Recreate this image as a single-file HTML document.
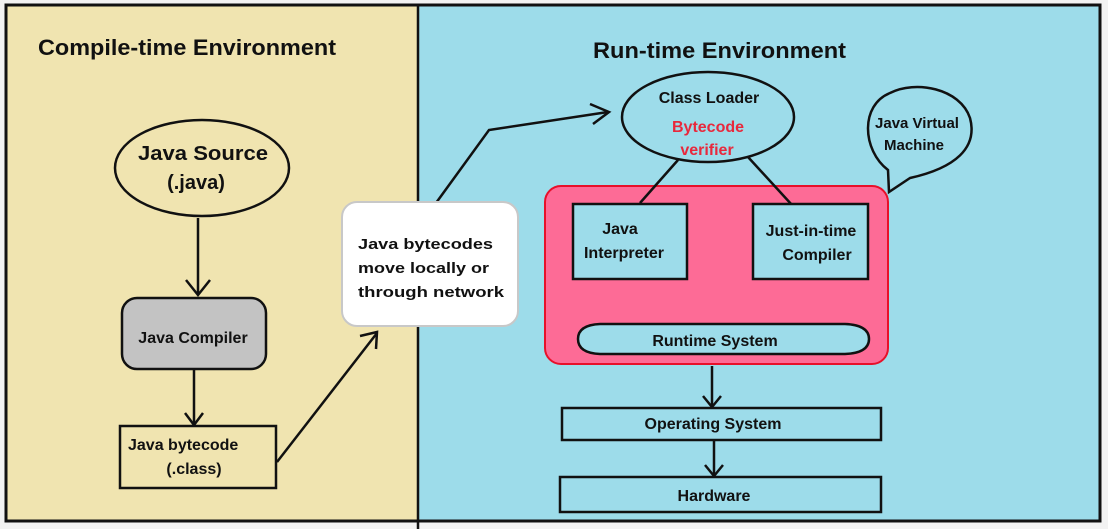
<!DOCTYPE html>
<html><head><meta charset="utf-8"><style>
html,body{margin:0;padding:0;background:#f2f2f2;}
svg{display:block;}
text{font-family:"Liberation Sans",Arial,sans-serif;fill:#111;font-weight:bold;}
</style></head><body>
<svg width="1108" height="529" viewBox="0 0 1108 529" xmlns="http://www.w3.org/2000/svg">
<rect x="0" y="0" width="1108" height="529" fill="#f2f2f2"/>
<rect x="6" y="5" width="412" height="516" fill="#f0e4b0"/>
<rect x="418" y="5" width="682" height="516" fill="#9ddcea"/>
<rect x="6" y="5" width="1094" height="516" fill="none" stroke="#111" stroke-width="3"/>
<line x1="418" y1="5" x2="418" y2="529" stroke="#111" stroke-width="2.5"/>

<text x="38" y="55" font-size="22" textLength="298" lengthAdjust="spacingAndGlyphs">Compile-time Environment</text>
<text x="593" y="58" font-size="22" textLength="253" lengthAdjust="spacingAndGlyphs">Run-time Environment</text>

<g stroke="#111" stroke-width="2.5" fill="none">
<ellipse cx="202" cy="168" rx="87" ry="48" fill="#f0e4b0"/>
<line x1="198" y1="218" x2="198" y2="294"/>
<polyline points="186,280 198,295 210,280"/>
<rect x="122" y="298" width="144" height="71" rx="15" fill="#c3c3c3"/>
<line x1="194" y1="370" x2="194" y2="424"/>
<polyline points="185,413 194,425 203,413"/>
<rect x="120" y="426" width="156" height="62" fill="#f0e4b0"/>
<line x1="277" y1="462" x2="377" y2="333"/>
<polyline points="360,336 377,332 376,349"/>
<polyline points="436,203 489,130 608,112"/>
<polyline points="590,104 609,112 593,124"/>
</g>
<rect x="342" y="202" width="176" height="124" rx="15" fill="#fff" stroke="#c8c8c8" stroke-width="2"/>

<text x="203" y="160" font-size="20" text-anchor="middle" textLength="130" lengthAdjust="spacingAndGlyphs">Java Source</text>
<text x="196" y="189" font-size="20" text-anchor="middle">(.java)</text>
<text x="193" y="343" font-size="16" text-anchor="middle">Java Compiler</text>
<text x="128" y="450" font-size="16">Java bytecode</text>
<text x="194" y="474" font-size="16" text-anchor="middle">(.class)</text>
<text x="358" y="249" font-size="15" textLength="135" lengthAdjust="spacingAndGlyphs">Java bytecodes</text>
<text x="358" y="273" font-size="15" textLength="131" lengthAdjust="spacingAndGlyphs">move locally or</text>
<text x="358" y="297" font-size="15" textLength="146" lengthAdjust="spacingAndGlyphs">through  network</text>

<rect x="545" y="186" width="343" height="178" rx="16" fill="#fd6b96" stroke="#e8102a" stroke-width="2"/>
<g stroke="#111" stroke-width="2.5" fill="none">
<ellipse cx="708" cy="117" rx="86" ry="45" fill="#9ddcea"/>
<line x1="678" y1="160" x2="640" y2="203"/>
<line x1="748" y1="157" x2="792" y2="205"/>
<rect x="573" y="204" width="114" height="75" fill="#9ddcea"/>
<rect x="753" y="204" width="115" height="75" fill="#9ddcea"/>
<path d="M600,324 L845,324 Q869,325 869,339 Q869,353 845,354 L600,354 Q578,353 578,339 Q578,325 600,324 Z" fill="#9ddcea"/>
<line x1="712" y1="366" x2="712" y2="406"/>
<polyline points="703,396 712,407 721,396"/>
<rect x="562" y="408" width="319" height="32" fill="#9ddcea"/>
<line x1="714" y1="440" x2="714" y2="475"/>
<polyline points="705,465 714,476 723,465"/>
<rect x="560" y="477" width="321" height="35" fill="#9ddcea"/>
<path d="M889,192 L888,170 C862,150 860,105 890,93 C915,80 960,88 970,118 C978,148 955,168 910,178 Z" fill="#9ddcea"/>
</g>
<text x="709" y="103" font-size="16" text-anchor="middle">Class Loader</text>
<text x="708" y="132" font-size="16" text-anchor="middle" style="fill:#e8283c">Bytecode</text>
<text x="707" y="155" font-size="16" text-anchor="middle" style="fill:#e8283c">verifier</text>
<text x="917" y="128" font-size="15" text-anchor="middle">Java Virtual</text>
<text x="914" y="150" font-size="15" text-anchor="middle">Machine</text>
<text x="620" y="234" font-size="16" text-anchor="middle">Java</text>
<text x="624" y="258" font-size="16" text-anchor="middle">Interpreter</text>
<text x="811" y="236" font-size="16" text-anchor="middle">Just-in-time</text>
<text x="817" y="260" font-size="16" text-anchor="middle">Compiler</text>
<text x="715" y="346" font-size="16" text-anchor="middle">Runtime System</text>
<text x="713" y="429" font-size="16" text-anchor="middle">Operating System</text>
<text x="714" y="501" font-size="16" text-anchor="middle">Hardware</text>
</svg>
</body></html>
